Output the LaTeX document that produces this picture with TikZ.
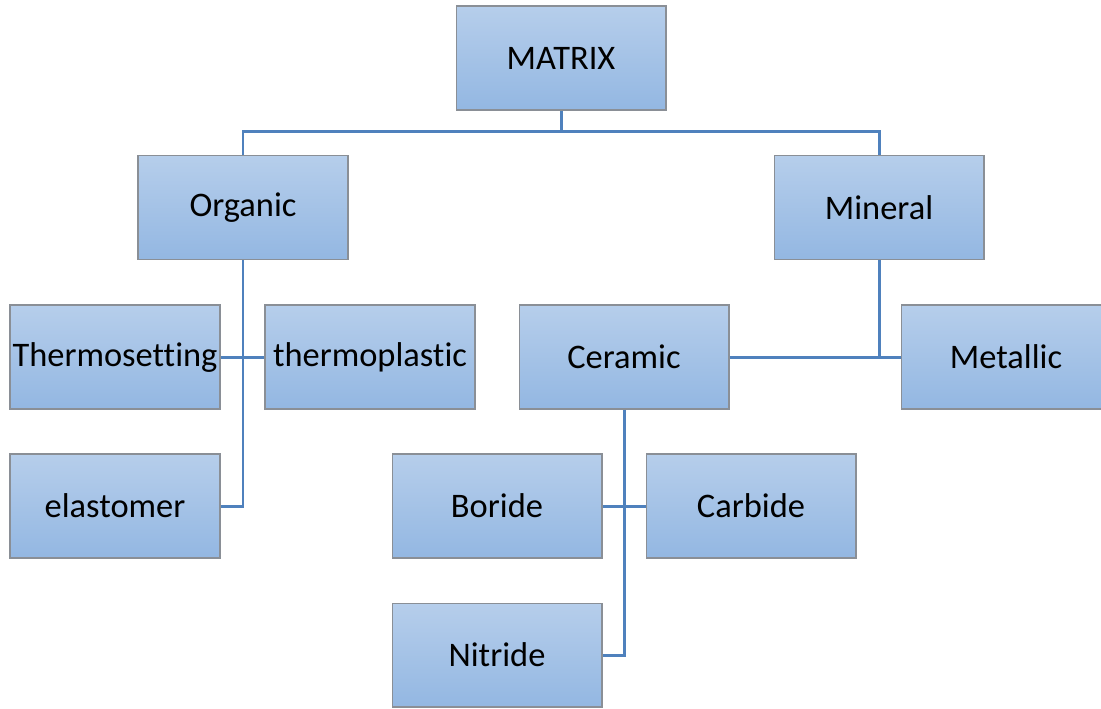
\documentclass[tikz,border=0pt]{standalone}
\usepackage{fontspec}
\setmainfont[Ligatures=NoCommon]{Carlito}
\definecolor{boxtop}{HTML}{B6CEEB}
\definecolor{boxbot}{HTML}{93B7E2}
\definecolor{boxline}{HTML}{8A8F96}
\definecolor{linkblue}{HTML}{4F81BD}

\begin{document}
\begin{tikzpicture}[x=0.02cm,y=-0.02cm]
                \tikzstyle{box}=[rectangle,draw=boxline,line width=0.6pt,top color=boxtop,bottom color=boxbot,minimum width=4.2cm,minimum height=2.08cm,inner sep=0pt,font=\fontsize{19.6}{24}\selectfont]
                \tikzstyle{link}=[draw=linkblue,line width=1.7pt]
                        \useasboundingbox (0,0) rectangle (1101,708);
                        \clip (0,0) rectangle (1101,708);
                        \node[box] (matrix) at (561,58){MATRIX};
                        \node[box] (organic) at (243,207.5){Organic};
                        \node[box] (mineral) at (879,207.5){Mineral};
                        \node[box] (thermoset) at (115,357){Thermosetting};
                        \node[box] (thermoplast) at (370,357){thermoplastic};
                        \node[box] (elastomer) at (115,506){elastomer};
                        \node[box] (ceramic) at (624,357){Ceramic};
                        \node[box] (metallic) at (1006,357){Metallic};
                        \node[box] (boride) at (497,506){Boride};
                        \node[box] (carbide) at (751,506){Carbide};
                        \node[box] (nitride) at (497,655){Nitride};
                        \coordinate (bus) at (561,131);

                        \draw[link] (matrix.south) -- (bus);
                        \foreach \to in {organic, mineral}
                            \draw[link] (bus) -| (\to.north);
                        \draw[link] (organic.south) |- (elastomer.east);
                        \draw[link] (thermoset.east) -- (thermoplast.west);
                        \draw[link] (mineral.south) -- (mineral.south |- metallic.west);
                        \draw[link] (ceramic.east) -- (metallic.west);
                        \draw[link] (ceramic.south) |- (nitride.east);
                        \draw[link] (boride.east) -- (carbide.west);
            \end{tikzpicture}
\end{document}
